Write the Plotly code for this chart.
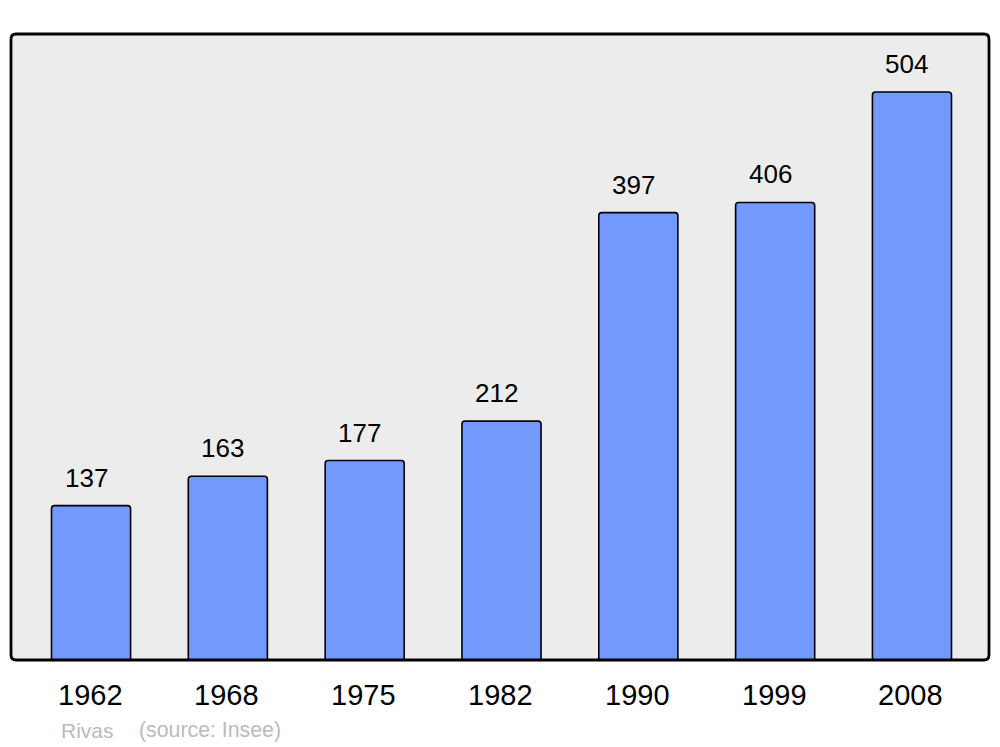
import plotly.graph_objects as go

years = ["1962", "1968", "1975", "1982", "1990", "1999", "2008"]
population = [137, 163, 177, 212, 397, 406, 504]
town = "Rivas"
source = "(source: Insee)"

xpos = list(range(len(years)))

fig = go.Figure()
fig.add_trace(go.Bar(
    x=xpos, y=population, width=0.578,
    marker=dict(color="#7399ff", line=dict(color="#000000", width=1.6)),
    hoverinfo="skip",
))

font = "Liberation Sans, Arial, sans-serif"
ann = []
for xi, v in zip(xpos, population):
    ann.append(dict(x=xi, y=v, xref="x", yref="y", text=str(v), showarrow=False,
                    xanchor="center", yanchor="middle", xshift=-5, yshift=28,
                    font=dict(family=font, size=26, color="#000000")))
for xi, yr in zip(xpos, years):
    ann.append(dict(x=xi, y=0, xref="x", yref="paper", text=yr, showarrow=False,
                    xanchor="center", yanchor="middle", xshift=-1, yshift=-35,
                    font=dict(family=font, size=29, color="#000000")))
ann.append(dict(x=(59 - 11) / 978, y=0, xref="paper", yref="paper", text=town,
                showarrow=False, xanchor="left", yanchor="middle", yshift=-70,
                font=dict(family=font, size=21, color="#bbbbbb")))
ann.append(dict(x=(137 - 11) / 978, y=0, xref="paper", yref="paper", text=source,
                showarrow=False, xanchor="left", yanchor="middle", yshift=-70,
                font=dict(family=font, size=21.3, color="#bbbbbb")))

rx = 5 / 978
ry = 5 / 626
path = (f"M {rx},0 L {1-rx},0 Q 1,0 1,{ry} L 1,{1-ry} Q 1,1 {1-rx},1 "
        f"L {rx},1 Q 0,1 0,{1-ry} L 0,{ry} Q 0,0 {rx},0 Z")

fig.update_layout(
    width=1000, height=747,
    margin=dict(l=11, r=11, t=34, b=87),
    paper_bgcolor="#ffffff",
    plot_bgcolor="#ececec",
    barcornerradius=3,
    showlegend=False,
    xaxis=dict(range=[-0.585, 6.563], showticklabels=False, showgrid=False,
               zeroline=False, fixedrange=True),
    yaxis=dict(range=[0, 555.5], showticklabels=False, showgrid=False,
               zeroline=False, fixedrange=True),
    annotations=ann,
    shapes=[dict(type="path", xref="paper", yref="paper", path=path,
                 line=dict(color="#000000", width=2.8), layer="above")],
)

fig.write_html("out.html", config={"displayModeBar": False},
               post_script="document.body.style.margin='0';document.body.style.overflow='hidden';")
